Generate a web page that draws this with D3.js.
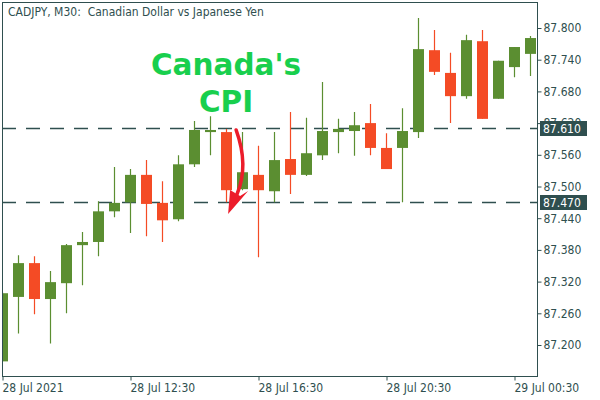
<!DOCTYPE html>
<html>
<head>
<meta charset="utf-8">
<script src="https://cdn.jsdelivr.net/npm/d3@7"></script>
<style>
  html, body { margin: 0; padding: 0; background: #ffffff; }
  svg { display: block; }
  .lbl { font-family: "DejaVu Sans Condensed", "DejaVu Sans", sans-serif; font-stretch: condensed; font-size: 12px; fill: #2F4F4F; }
</style>
</head>
<body>
<div id="chart"></div>
<script>
// ---- Data (CADJPY M30, 28 Jul 08:30 .. 29 Jul 01:00) ----
const openP  = [87.169,87.291,87.355,87.287,87.317,87.389,87.395,87.453,87.470,87.522,87.469,87.438,87.542,87.603,87.603,87.495,87.522,87.491,87.552,87.522,87.559,87.603,87.605,87.620,87.573,87.573,87.603,87.758,87.715,87.671,87.775,87.666,87.726,87.751];
const highP  = [87.300,87.370,87.368,87.340,87.391,87.414,87.472,87.537,87.533,87.550,87.510,87.559,87.624,87.633,87.609,87.603,87.577,87.603,87.641,87.630,87.698,87.628,87.641,87.656,87.601,87.648,87.819,87.796,87.753,87.787,87.796,87.738,87.764,87.785];
const lowP   = [87.169,87.222,87.258,87.203,87.260,87.313,87.368,87.442,87.412,87.406,87.395,87.434,87.537,87.559,87.470,87.493,87.366,87.470,87.486,87.520,87.550,87.563,87.558,87.559,87.533,87.470,87.592,87.711,87.620,87.666,87.628,87.666,87.707,87.709];
const closeP = [87.298,87.355,87.287,87.319,87.389,87.395,87.453,87.469,87.522,87.467,87.436,87.542,87.607,87.607,87.493,87.527,87.493,87.550,87.522,87.563,87.605,87.609,87.616,87.573,87.533,87.605,87.760,87.717,87.671,87.777,87.628,87.738,87.764,87.781];

const xTickIndex  = [0, 8, 16, 24, 32];
const xTickLabels = ["28 Jul 2021", "28 Jul 12:30", "28 Jul 16:30", "28 Jul 20:30", "29 Jul 00:30"];
const yTickValues = [87.200, 87.260, 87.320, 87.380, 87.440, 87.500, 87.560, 87.620, 87.680, 87.740, 87.800];
const levelLines  = [87.610, 87.470];
const titleText   = "CADJPY, M30:  Canadian Dollar vs Japanese Yen";
const noteLines   = ["Canada's", "CPI"];

// ---- Layout ----
const W = 600, H = 400;
const L = 2.5, T = 2.5, R = 537.5, B = 376.5;
const UP = "#5B8E31", DOWN = "#F44B25", AX = "#2F4F4F";

const svg = d3.select("#chart").append("svg").attr("width", W).attr("height", H);

const x = d3.scaleLinear().domain([0, 33]).range([2.5, 530.5]);
const y = d3.scaleLinear().domain([87.2, 87.8]).range([345, 28]);

svg.append("defs").append("clipPath").attr("id", "plot")
  .append("rect").attr("x", L).attr("y", T).attr("width", R - L).attr("height", B - T);

const plot = svg.append("g").attr("clip-path", "url(#plot)");

// Level lines (dashed)
plot.selectAll("line.level").data(levelLines).join("line")
  .attr("class", "level")
  .attr("x1", L - 0.5).attr("x2", R)
  .attr("y1", d => Math.round(y(d)) + 0.5).attr("y2", d => Math.round(y(d)) + 0.5)
  .attr("stroke", AX).attr("stroke-width", 1.3).attr("stroke-dasharray", "14,10");

const idx = d3.range(openP.length);

// Wicks
plot.selectAll("line.wick").data(idx).join("line")
  .attr("class", "wick")
  .attr("x1", i => x(i)).attr("x2", i => x(i))
  .attr("y1", i => y(highP[i])).attr("y2", i => y(lowP[i]))
  .attr("stroke", i => closeP[i] >= openP[i] ? UP : DOWN)
  .attr("stroke-width", 1.2);

// Bodies
plot.selectAll("rect.body").data(idx).join("rect")
  .attr("class", "body")
  .attr("x", i => x(i) - 5.5).attr("width", 11)
  .attr("y", i => y(Math.max(openP[i], closeP[i])))
  .attr("height", i => Math.max(1.5, Math.abs(y(openP[i]) - y(closeP[i]))))
  .attr("fill", i => closeP[i] >= openP[i] ? UP : DOWN);

// Frame
svg.append("rect").attr("x", L).attr("y", T).attr("width", R - L).attr("height", B - T)
  .attr("fill", "none").attr("stroke", AX).attr("stroke-width", 1);

// Y axis (right)
const yAxis = d3.axisRight(y).tickValues(yTickValues).tickSize(4).tickPadding(2)
  .tickFormat(d3.format(".3f"));
const gy = svg.append("g").attr("transform", `translate(${R},0)`).call(yAxis);
gy.select(".domain").remove();
gy.selectAll(".tick line").attr("stroke", AX);
gy.selectAll(".tick text").attr("class", "lbl").attr("fill", AX).attr("font-size", null).attr("font-family", null);

// X axis (bottom)
const xAxis = d3.axisBottom(x).tickValues(xTickIndex).tickSize(4).tickPadding(3)
  .tickFormat((d, k) => xTickLabels[k]);
const gx = svg.append("g").attr("transform", `translate(0,${B})`).call(xAxis);
gx.select(".domain").remove();
gx.selectAll(".tick line").attr("stroke", AX);
gx.selectAll(".tick text").attr("class", "lbl").attr("fill", AX).attr("text-anchor", "start")
  .attr("font-size", null).attr("font-family", null).attr("dx", "-0.5");

// Level labels (boxes on the price axis)
const lv = svg.selectAll("g.lvl").data(levelLines).join("g").attr("class", "lvl")
  .attr("transform", d => `translate(${R + 2.5},${Math.round(y(d))})`);
lv.append("rect").attr("x", 0).attr("y", -7).attr("width", 47).attr("height", 15).attr("fill", AX);
lv.append("text").attr("class", "lbl").attr("x", 3).attr("y", 5).style("fill", "#ffffff")
  .text(d => d3.format(".3f")(d));

// Title
svg.append("text").attr("class", "lbl").attr("x", 8).attr("y", 16)
  .attr("xml:space", "preserve").style("white-space", "pre").text(titleText);

// Annotation: "Canada's CPI"
svg.append("g").selectAll("text").data(noteLines).join("text")
  .attr("x", 226).attr("y", (d, k) => 75 + k * 37)
  .attr("text-anchor", "middle")
  .attr("font-family", "'DejaVu Sans', sans-serif").attr("font-weight", "bold")
  .attr("font-size", 29.5).attr("fill", "#18CF4D")
  .text(d => d);

// Annotation: red curved arrow pointing down to the 87.470 level
const ax0 = x(14.6), ay0 = y(87.607);
const arrow = svg.append("g");
arrow.append("path")
  .attr("d", `M${ax0},${ay0} C${ax0 + 8},${ay0 + 22} ${ax0 + 9},${ay0 + 45} ${ax0 + 1},${ay0 + 64}`)
  .attr("fill", "none").attr("stroke", "#EC1C2A").attr("stroke-width", 3.5).attr("stroke-linecap", "round");
arrow.append("path")
  .attr("d", `M${ax0 - 8},${ay0 + 84} L${ax0 - 6},${ay0 + 60} L${ax0 + 4},${ay0 + 66} L${ax0 + 12},${ay0 + 61} Z`)
  .attr("fill", "#EC1C2A");
</script>
</body>
</html>
